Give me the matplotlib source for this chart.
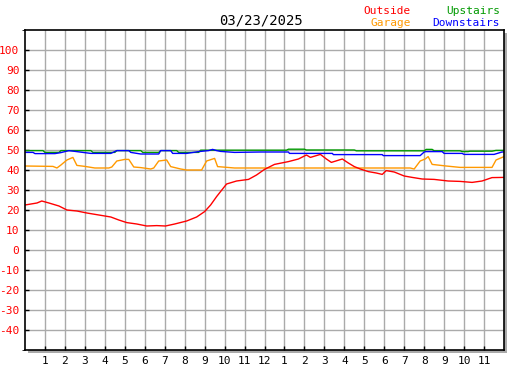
import matplotlib
matplotlib.use("Agg")
import matplotlib.pyplot as plt
from matplotlib.patches import Rectangle

# hours since midnight, temperatures (F)
out_t = [0, 0.3, 0.6, 0.84, 1.2, 1.7, 2.1, 2.6, 3.1, 3.7, 4.3, 4.7, 5.1, 5.6, 6.1, 6.6, 7.04, 7.5,
         8.1, 8.6, 9.0, 9.3, 9.6, 9.9, 10.1, 10.6, 11.2, 11.6, 12.0, 12.5, 13.2, 13.7, 14.1, 14.3,
         14.8, 15.1, 15.35, 15.9, 16.2, 16.5, 16.8, 17.2, 17.6, 17.9, 18.1, 18.5, 19.0, 19.4, 19.9,
         20.5, 21.2, 21.8, 22.4, 22.9, 23.4, 24.0]
out_v = [22.5, 23, 23.5, 24.5, 23.5, 22, 20, 19.5, 18.5, 17.5, 16.5, 15, 13.7, 13, 12, 12.2, 12, 13,
         14.5, 16.5, 19.2, 22.5, 26.7, 30.5, 33, 34.5, 35.3, 37.5, 40.3, 42.8, 44.2, 45.5, 47.5, 46.3,
         47.8, 45.5, 43.8, 45.5, 43.5, 41.7, 40.5, 39.2, 38.5, 37.8, 39.7, 39, 37, 36.3, 35.5,
         35.3, 34.5, 34.3, 33.8, 34.5, 36.2, 36.3]

gar_t = [0, 1.4, 1.6, 1.8, 2.1, 2.4, 2.6, 3.0, 3.5, 4.2, 4.35, 4.6, 5.0, 5.2, 5.45, 5.8, 6.3, 6.45,
         6.7, 7.1, 7.3, 7.8, 8.1, 8.85, 9.1, 9.5, 9.65, 10.5, 19.3, 19.5, 19.8, 20.05, 20.2, 20.4,
         21.1, 21.8, 23.4, 23.6, 24.0]
gar_v = [42, 41.8, 41, 42.5, 45, 46.3, 42.3, 41.8, 41, 41, 41.5, 44.5, 45.3, 45.3, 41.5, 41.2, 40.5, 41,
         44.5, 45, 41.7, 40.5, 40, 40, 44.5, 45.8, 41.7, 41, 41, 40.5, 44.5, 45.5, 46.7, 42.8,
         42, 41.3, 41.3, 45, 46.7]

up_t = [0, 0.9, 1.0, 1.7, 1.8, 3.3, 3.4, 4.5, 4.6, 5.8, 5.9, 6.7, 6.8, 7.6, 7.7, 8.7, 8.8, 13.1,
        13.2, 14.0, 14.1, 16.5, 16.6, 20.0, 20.1, 20.4, 20.5, 21.8, 21.9, 22.2, 22.3, 23.4, 23.6, 24.0]
up_v = [49.7, 49.7, 48.8, 48.8, 49.7, 49.7, 48.8, 48.8, 49.7, 49.7, 48.8, 48.8, 49.7, 49.7, 48.8, 48.8,
        49.9, 49.9, 50.4, 50.4, 50, 50, 49.6, 49.6, 50.3, 50.3, 49.6, 49.6, 49.2, 49.2, 49.4, 49.4, 49.8, 49.8]

dn_t = [0, 0.4, 0.5, 1.5, 1.8, 2.2, 2.9, 3.3, 4.3, 4.6, 5.2, 5.3, 5.8, 6.7, 6.8, 7.3, 7.4, 8.1, 8.7,
        9.2, 9.4, 9.6, 9.8, 10.5, 11.8, 13.2, 13.25, 15.4, 15.45, 17.9, 17.95, 19.8, 20.0, 20.1, 20.9,
        21.0, 21.9, 22.0, 23.5, 23.9, 24.0]
dn_v = [48.8, 48.8, 48.2, 48.2, 48.7, 49.7, 48.8, 48.3, 48.3, 49.7, 49.7, 48.8, 48, 48, 49.7, 49.7,
        48.3, 48.3, 49.2, 49.7, 50.3, 49.7, 49.3, 48.8, 49, 49, 48.3, 48.3, 47.7, 47.7, 47.2, 47.2,
        49, 49.2, 49.2, 48.3, 48.3, 47.8, 47.8, 49, 49]

hour_labels = ["1", "2", "3", "4", "5", "6", "7", "8", "9", "10", "11", "12",
               "1", "2", "3", "4", "5", "6", "7", "8", "9", "10", "11"]
y_ticks = list(range(-40, 101, 10))

W, H = 527, 370
fig = plt.figure(figsize=(W / 100, H / 100), dpi=100)
plt.rcParams['font.family'] = ['DejaVu Sans Mono']

L, R, T, B = 25, 504, 30, 350
ax = fig.add_axes([L / W, 1 - B / H, (R - L) / W, (B - T) / H], zorder=2)
# drop shadow of the frame
fig.patches.append(Rectangle(((L + 2.5) / W, 1 - (B + 2.5) / H), (R - L) / W, (B - T) / H,
                             transform=fig.transFigure, facecolor='#aaaaaa', edgecolor='none', zorder=1))

ax.plot(up_t, up_v, color='#009900', lw=1)
ax.plot(dn_t, dn_v, color='#0000ff', lw=1)
ax.plot(gar_t, gar_v, color='#ff9900', lw=1)
ax.plot(out_t, out_v, color='#ff0000', lw=1)

ax.set_xlim(0, 24)
ax.set_ylim(-50, 110)
ax.set_xticks(range(1, 24))
ax.set_xticklabels(hour_labels, fontsize=8)
ax.set_yticks(y_ticks)
ax.set_yticklabels([str(v) for v in y_ticks], fontsize=8, color='red')
ax.set_yticks([-50, 110], minor=True)
ax.grid(True, color='#aaaaaa', lw=1)
ax.set_axisbelow(True)
ax.tick_params(direction='in', length=3, width=1, color='black', pad=4)
for s in ax.spines.values():
    s.set_linewidth(1.2)
    s.set_color('black')

fig.text(261 / W, 1 - 20 / H, "03/23/2025", ha='center', va='center', fontsize=10)
fig.text(411 / W, 1 - 11 / H, "Outside", ha='right', va='center', fontsize=8, color='#ff0000')
fig.text(411 / W, 1 - 23 / H, "Garage", ha='right', va='center', fontsize=8, color='#ff9900')
fig.text(500 / W, 1 - 11 / H, "Upstairs", ha='right', va='center', fontsize=8, color='#009900')
fig.text(500 / W, 1 - 23 / H, "Downstairs", ha='right', va='center', fontsize=8, color='#0000ff')

fig.savefig("out.png", dpi=100)
